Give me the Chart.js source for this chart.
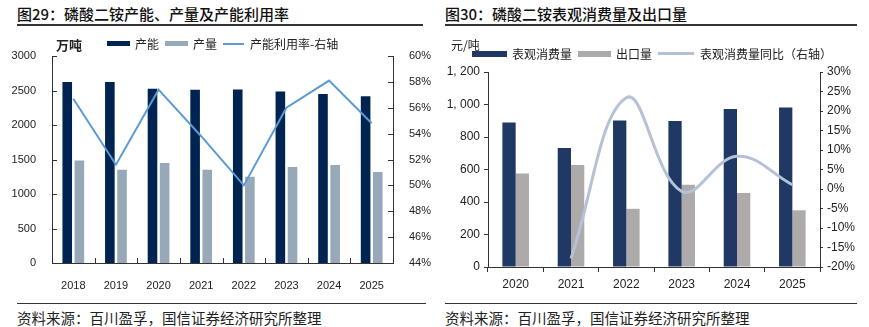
<!DOCTYPE html>
<html>
<head>
<meta charset="utf-8">
<script src="https://cdn.jsdelivr.net/npm/chart.js@4"></script>
<style>
  body { margin: 0; background: #fff; }
  #page { position: relative; width: 869px; height: 327px; overflow: hidden; font-family: "Noto Sans CJK SC", "Liberation Sans", sans-serif; color: #222; }
  .title { position: absolute; top: 4px; font-size: 15px; font-weight: 500; line-height: 20px; color: #111; white-space: nowrap; }
  .rule { position: absolute; height: 0; border-top: 2px solid #333; }
  .source { position: absolute; top: 309px; font-size: 14.5px; line-height: 18px; white-space: nowrap; }
  .lg { position: absolute; display: flex; align-items: center; font-size: 12px; white-space: nowrap; }
  .lg .sw { display: inline-block; height: 5px; margin-right: 5px; }
  .lg .ln { display: inline-block; height: 0; margin-right: 6px; }
  .lg span.t { margin-right: 6px; }
  .unit { position: absolute; font-size: 13px; white-space: nowrap; }
  canvas { position: absolute; top: 0; }
</style>
</head>
<body>
<div id="page">
  <div class="title" style="left:17px">图29：磷酸二铵产能、产量及产能利用率</div>
  <div class="rule" style="left:17px; width:406px; top:24px"></div>
  <div class="title" style="left:445px">图30：磷酸二铵表观消费量及出口量</div>
  <div class="rule" style="left:445px; width:412px; top:24px"></div>

  <canvas id="capChart" width="435" height="295" style="left:0"></canvas>
  <canvas id="consChart" width="434" height="295" style="left:435px"></canvas>

  <div class="unit" style="left:56px; top:35px; font-weight:bold">万吨</div>
  <div class="lg" style="left:107px; top:35px">
    <span class="sw" style="width:23px; background:#002452"></span><span class="t">产能</span>
    <span class="sw" style="width:23px; background:#97a8b9"></span><span class="t">产量</span>
    <span class="ln" style="width:21px; border-top:2px solid #5b9bd5"></span><span class="t">产能利用率-右轴</span>
  </div>

  <div class="unit" style="left:451px; top:36px; font-size:12px">元/吨</div>
  <div class="lg" style="left:472px; top:45px">
    <span class="sw" style="width:35px; height:6px; background:#1f3864"></span><span class="t">表观消费量</span>
    <span class="sw" style="width:33px; height:6px; background:#aeaaaa"></span><span class="t">出口量</span>
    <span class="ln" style="width:36px; border-top:3px solid #b4c1d6"></span><span class="t">表观消费量同比（右轴）</span>
  </div>

  <div class="rule" style="left:17px; width:409px; top:303px; border-top-width:1.5px"></div>
  <div class="rule" style="left:445px; width:412px; top:303px; border-top-width:1.5px"></div>
  <div class="source" style="left:17px">资料来源：百川盈孚，国信证券经济研究所整理</div>
  <div class="source" style="left:445px">资料来源：百川盈孚，国信证券经济研究所整理</div>
</div>

<script>
// chart 1: capacity / output / utilisation
const years1 = ['2018', '2019', '2020', '2021', '2022', '2023', '2024', '2025'];
const capacity = [2623, 2623, 2526, 2512, 2516, 2487, 2449, 2415];
const output = [1487, 1352, 1449, 1352, 1251, 1391, 1420, 1319];
const utilRate = [56.7, 51.6, 57.4, 53.8, 50.0, 56.0, 58.1, 54.8];
const capTicks = { min: 0, max: 3000, step: 500 };
const rateTicks = { min: 44, max: 60, step: 2 };

// chart 2: apparent consumption / exports / yoy
const years2 = ['2020', '2021', '2022', '2023', '2024', '2025'];
const consumption = [890, 732, 902, 898, 972, 982];
const exportsQty = [575, 627, 358, 506, 456, 349];
const consumptionYoY = [null, -17.8, 23.4, -0.6, 8.4, 1.1];
const consTicks = { min: 0, max: 1200, step: 200 };
const yoyTicks = { min: -20, max: 30, step: 5 };

const numFont = { family: 'Liberation Sans', size: 11 };
const axisColor = '#333';

// ticks of chart 1 point into the plot
const innerTicks = {
    id: 'innerTicks',
    afterDraw(chart) {
        const { ctx, chartArea: a, scales } = chart;
        ctx.save();
        ctx.strokeStyle = axisColor;
        ctx.lineWidth = 1;
        ctx.beginPath();
        scales.y.ticks.forEach(t => {
            const y = Math.round(scales.y.getPixelForValue(t.value)) + 0.5;
            ctx.moveTo(a.left, y); ctx.lineTo(a.left + 5, y);
        });
        scales.y1.ticks.forEach(t => {
            const y = Math.round(scales.y1.getPixelForValue(t.value)) + 0.5;
            ctx.moveTo(a.right, y); ctx.lineTo(a.right - 5, y);
        });
        const x = scales.x;
        for (let i = 1; i < x.ticks.length; i++) {
            const bx = Math.round((x.getPixelForValue(i - 1) + x.getPixelForValue(i)) / 2) + 0.5;
            ctx.moveTo(bx, a.bottom); ctx.lineTo(bx, a.bottom - 5);
        }
        ctx.stroke();
        ctx.restore();
    }
};

new Chart(document.getElementById('capChart'), {
    type: 'bar',
    data: {
        labels: years1,
        datasets: [
            { type: 'line', label: '产能利用率-右轴', data: utilRate, yAxisID: 'y1', borderColor: '#5b9bd5', borderWidth: 2, pointRadius: 0, tension: 0, order: 0 },
            { label: '产能', data: capacity, backgroundColor: '#002452', categoryPercentage: 0.57, barPercentage: 0.79, order: 1 },
            { label: '产量', data: output, backgroundColor: '#97a8b9', categoryPercentage: 0.57, barPercentage: 0.79, order: 1 }
        ]
    },
    options: {
        responsive: false,
        animation: false,
        layout: { padding: { top: 56 } },
        plugins: { legend: { display: false }, tooltip: { enabled: false } },
        scales: {
            x: {
                grid: { display: false },
                border: { display: true, color: axisColor },
                ticks: { font: numFont, color: '#222', padding: 8, maxRotation: 0 },
                afterFit: s => { s.height = 32; }
            },
            y: {
                position: 'left', min: capTicks.min, max: capTicks.max,
                grid: { display: false },
                border: { display: true, color: axisColor },
                ticks: { stepSize: capTicks.step, font: numFont, color: '#222', padding: 8, callback: v => String(v) },
                afterFit: s => { s.width = 52; }
            },
            y1: {
                position: 'right', min: rateTicks.min, max: rateTicks.max,
                grid: { display: false },
                border: { display: true, color: axisColor },
                ticks: { stepSize: rateTicks.step, font: numFont, color: '#222', padding: 8, callback: v => v + '%' },
                afterFit: s => { s.width = 42; }
            }
        }
    },
    plugins: [innerTicks]
});

const numFont2 = { family: 'Liberation Sans', size: 12 };

new Chart(document.getElementById('consChart'), {
    type: 'bar',
    data: {
        labels: years2,
        datasets: [
            { type: 'line', label: '表观消费量同比（右轴）', data: consumptionYoY, yAxisID: 'y1', borderColor: '#b4c1d6', borderWidth: 3, pointRadius: 0, tension: 0.4, spanGaps: false, order: 0 },
            { label: '表观消费量', data: consumption, backgroundColor: '#1f3864', categoryPercentage: 0.48, barPercentage: 1, order: 1 },
            { label: '出口量', data: exportsQty, backgroundColor: '#aeaaaa', categoryPercentage: 0.48, barPercentage: 1, order: 1 }
        ]
    },
    options: {
        responsive: false,
        animation: false,
        layout: { padding: { top: 72 } },
        plugins: { legend: { display: false }, tooltip: { enabled: false } },
        scales: {
            x: {
                grid: { offset: true, drawOnChartArea: false, tickLength: 5, color: axisColor },
                border: { display: true, color: axisColor },
                ticks: { font: numFont2, color: '#222', padding: 5, maxRotation: 0 },
                afterFit: s => { s.height = 28; }
            },
            y: {
                position: 'left', min: consTicks.min, max: consTicks.max,
                grid: { drawOnChartArea: false, tickLength: 4, color: axisColor },
                border: { display: true, color: axisColor },
                ticks: { stepSize: consTicks.step, font: numFont2, color: '#222', padding: 4, callback: v => v.toLocaleString('en-US').replace(',', ', ') },
                afterFit: s => { s.width = 53; }
            },
            y1: {
                position: 'right', min: yoyTicks.min, max: yoyTicks.max,
                grid: { drawOnChartArea: false, tickLength: 3, color: axisColor },
                border: { display: true, color: axisColor },
                ticks: { stepSize: yoyTicks.step, font: numFont2, color: '#222', padding: 4, callback: v => v + '%' },
                afterFit: s => { s.width = 49; }
            }
        }
    }
});
</script>
</body>
</html>
